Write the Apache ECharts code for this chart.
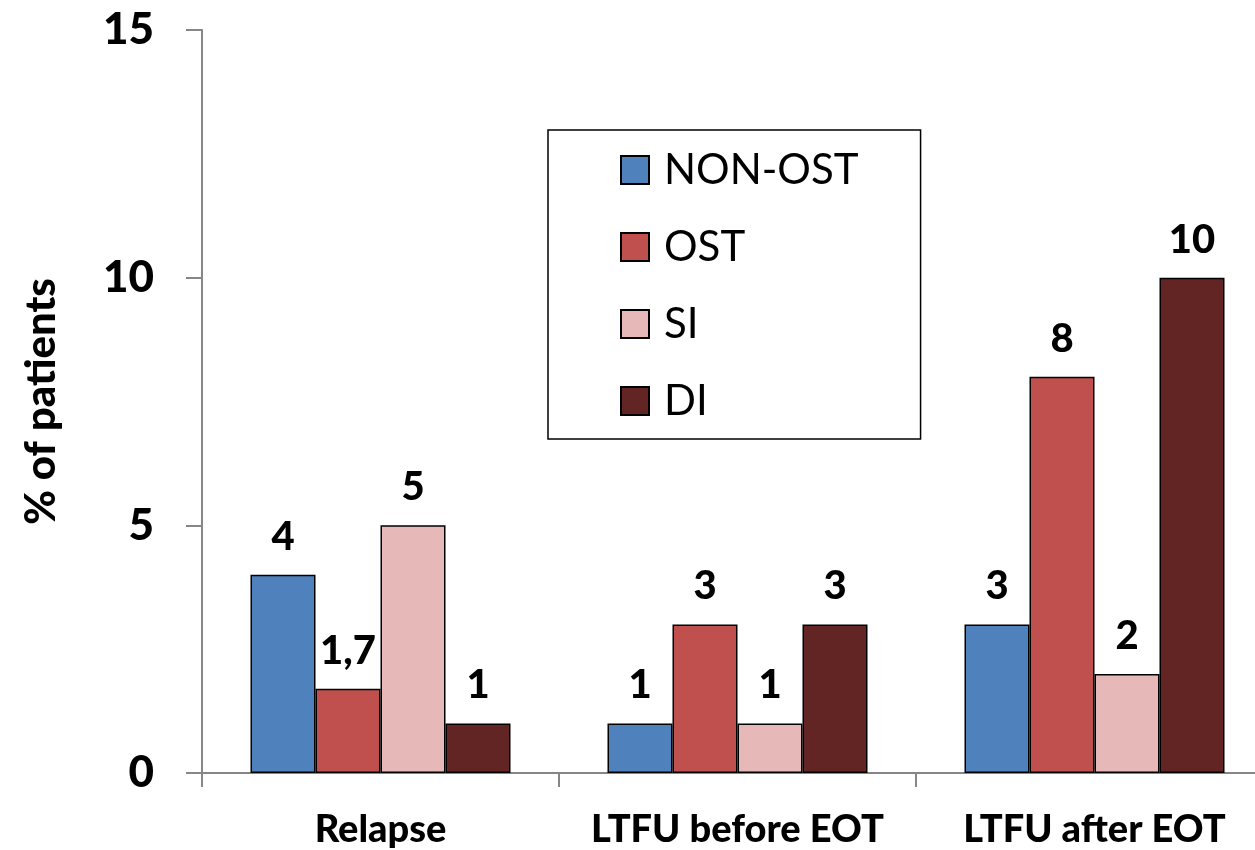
<!DOCTYPE html>
<html>
<head>
<meta charset="utf-8">
<script src="https://cdn.jsdelivr.net/npm/echarts@6/dist/echarts.min.js"></script>
<style>
  html, body { margin: 0; padding: 0; background: #fff; }
  #chart { width: 1255px; height: 850px; }
</style>
</head>
<body>
<div id="chart"></div>
<script>
var categories = ['Relapse', 'LTFU before EOT', 'LTFU after EOT'];
var seriesNames = ['NON-OST', 'OST', 'SI', 'DI'];
var nonOst = [4, 1, 3];
var ost = [1.7, 3, 8];
var si = [5, 1, 2];
var di = [1, 3, 10];
var colors = ['#4F81BD', '#C0504D', '#E6B9B8', '#632523'];
var yTicks = [0, 5, 10, 15];

var font = 'Lato';
var allData = [nonOst, ost, si, di];

var myChart = echarts.init(document.getElementById('chart'));

function makeSeries(i) {
    return {
        name: seriesNames[i],
        type: 'bar',
        data: allData[i],
        barWidth: 65,
        barGap: '0%',
        itemStyle: { color: colors[i], borderColor: '#000', borderWidth: 1.5 },
        label: {
            show: true,
            position: 'top',
            distance: 18,
            color: '#000',
            fontFamily: font,
            fontWeight: 900,
            fontSize: 40,
            formatter: function (p) { return String(p.value).replace('.', ','); }
        }
    };
}

var option = {
    animation: false,
    backgroundColor: '#fff',
    grid: {
        left: 202, top: 30, width: 1071, height: 743,
        containLabel: false,
        outerBoundsMode: 'none'
    },
    legend: {
        orient: 'vertical',
        left: 548,
        top: 130,
        padding: [18, 62, 16, 72],
        borderColor: '#000',
        borderWidth: 1.5,
        itemWidth: 28,
        itemHeight: 28,
        itemGap: 33,
        icon: 'rect',
        data: seriesNames,
        textStyle: {
            fontFamily: font,
            fontSize: 42,
            lineHeight: 44,
            color: '#000',
            padding: [0, 0, 0, 10]
        }
    },
    xAxis: {
        type: 'category',
        data: categories,
        axisLine: { lineStyle: { color: '#868686', width: 2 } },
        axisTick: { show: true, interval: 0, length: 14, lineStyle: { color: '#868686', width: 2 } },
        axisLabel: {
            interval: 0,
            margin: 38,
            color: '#000',
            fontFamily: font,
            fontWeight: 900,
            fontSize: 38
        }
    },
    yAxis: {
        type: 'value',
        min: yTicks[0],
        max: yTicks[yTicks.length - 1],
        interval: 5,
        name: '% of patients',
        nameLocation: 'middle',
        nameGap: 140,
        nameTextStyle: {
            color: '#000',
            fontFamily: font,
            fontWeight: 900,
            fontSize: 42
        },
        splitLine: { show: false },
        axisLine: { show: true, lineStyle: { color: '#868686', width: 2 } },
        axisTick: { show: true, length: 16, lineStyle: { color: '#868686', width: 2 } },
        axisLabel: {
            margin: 48,
            color: '#000',
            fontFamily: font,
            fontWeight: 900,
            fontSize: 44
        }
    },
    series: [makeSeries(0), makeSeries(1), makeSeries(2), makeSeries(3)]
};

myChart.setOption(option);
window.addEventListener('resize', function () {
    myChart.resize();
});
</script>
</body>
</html>
